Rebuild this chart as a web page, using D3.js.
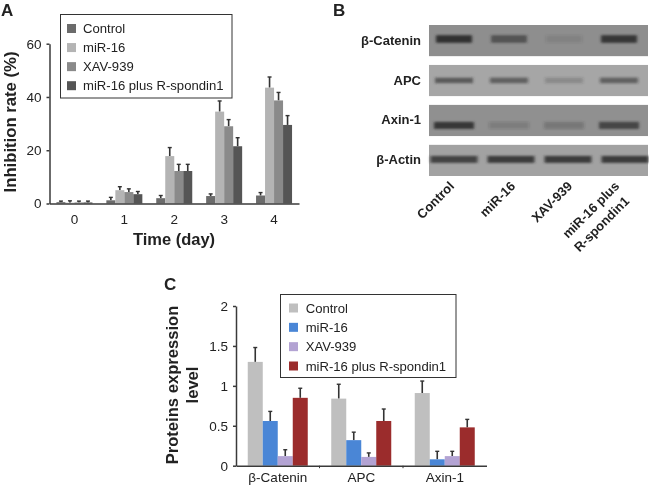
<!DOCTYPE html>
<html>
<head>
<meta charset="utf-8">
<script src="https://cdn.jsdelivr.net/npm/d3@7"></script>
<style>
  html, body { margin: 0; padding: 0; background: #fff; }
  svg { display: block; filter: blur(0.3px); }
  text { font-family: "Liberation Sans", Arial, sans-serif; fill: #222; }
  .axis path, .axis line { stroke: #3a3a3a; stroke-width: 1.5; }
</style>
</head>
<body>
<div id="chart"></div>
<script>
let series = ['Control', 'miR-16', 'XAV-939', 'miR-16 plus R-spondin1']

// panel A
let days = ['0', '1', '2', '3', '4']
let inhibitionControl = [0.5, 1.2, 2, 2.8, 3]
let inhibitionMir = [0.3, 5, 17.8, 34.5, 43.5]
let inhibitionXav = [0.4, 4.3, 12.2, 29, 38.7]
let inhibitionPlus = [0.4, 3.5, 12.2, 21.5, 29.5]
let inhibitionControlTop = [0.9, 2.3, 3, 3.6, 4.1]
let inhibitionMirTop = [1, 6.3, 21, 38.5, 47.5]
let inhibitionXavTop = [0.9, 5.5, 14.7, 31.5, 41.7]
let inhibitionPlusTop = [0.9, 4.5, 14.7, 24.7, 33]
let inhibitionTicks = [0, 20, 40, 60]

// panel B, darkness of each band, 0 to 1
let proteins = ['β-Catenin', 'APC', 'Axin-1', 'β-Actin']
let lanes = ['Control', 'miR-16', 'XAV-939', 'miR-16 plus R-spondin1']
let catBands = [0.95, 0.6, 0.13, 0.9]
let apcBands = [0.62, 0.55, 0.24, 0.55]
let axinBands = [0.9, 0.18, 0.26, 0.75]
let actinBands = [0.8, 0.85, 0.85, 0.85]

// panel C
let proteinsC = ['β-Catenin', 'APC', 'Axin-1']
let levelControl = [1.3, 0.84, 0.91]
let levelMir = [0.56, 0.32, 0.08]
let levelXav = [0.12, 0.11, 0.12]
let levelPlus = [0.85, 0.56, 0.48]
let levelControlTop = [1.48, 1.02, 1.06]
let levelMirTop = [0.68, 0.42, 0.18]
let levelXavTop = [0.2, 0.16, 0.18]
let levelPlusTop = [0.97, 0.71, 0.58]
let levelTicks = [0, 0.5, 1, 1.5, 2]

let greys = ['#6b6b6b', '#b4b4b4', '#8a8a8a', '#555555']
let colorsC = ['#bfbfbf', '#4a86d6', '#b3a3d3', '#9b2c2c']

let width = 649, height = 487

let svg = d3.select('#chart').append('svg')
  .attr('width', width)
  .attr('height', height)

let defs = svg.append('defs')
defs.append('filter').attr('id', 'bandblur')
  .attr('x', '-20%').attr('y', '-100%').attr('width', '140%').attr('height', '300%')
  .append('feGaussianBlur').attr('stdDeviation', '1.8 1.3')

function panelLabel(text, x, y) {
  svg.append('text')
    .attr('x', x)
    .attr('y', y)
    .attr('font-size', 17)
    .attr('font-weight', 'bold')
    .attr('fill', '#111')
    .text(text)
}

function drawBars(g, x, y, names, values, tops, colors, barWidth, errColor) {
  let inner = d3.scaleBand()
    .domain(d3.range(values.length))
    .range([-barWidth * values.length / 2, barWidth * values.length / 2])

  values.forEach(function (vals, s) {
    let grp = g.append('g')
    let cx = (d, i) => x(names[i]) + x.bandwidth() / 2 + inner(s) + barWidth / 2
    grp.selectAll('.err')
      .data(vals)
      .enter().append('line')
      .attr('x1', cx)
      .attr('x2', cx)
      .attr('y1', d => y(d))
      .attr('y2', (d, i) => y(tops[s][i]))
      .attr('stroke', errColor)
      .attr('stroke-width', 1.6)
    grp.selectAll('.cap')
      .data(vals)
      .enter().append('line')
      .attr('x1', (d, i) => cx(d, i) - 2)
      .attr('x2', (d, i) => cx(d, i) + 2)
      .attr('y1', (d, i) => y(tops[s][i]))
      .attr('y2', (d, i) => y(tops[s][i]))
      .attr('stroke', errColor)
      .attr('stroke-width', 1.4)
    grp.selectAll('rect')
      .data(vals)
      .enter().append('rect')
      .attr('x', (d, i) => cx(d, i) - barWidth / 2)
      .attr('y', d => y(d))
      .attr('width', barWidth)
      .attr('height', d => y(0) - y(d))
      .attr('fill', colors[s])
  })
}

function drawLegend(x0, y0, w, h, rows, swatchX, textX, colors) {
  let legend = svg.append('g')
  legend.append('rect')
    .attr('x', x0)
    .attr('y', y0)
    .attr('width', w)
    .attr('height', h)
    .attr('fill', '#fff')
    .attr('stroke', '#333')
    .attr('stroke-width', 1)
  series.forEach(function (name, i) {
    legend.append('rect')
      .attr('x', swatchX)
      .attr('y', rows(i) - 4.5)
      .attr('width', 9)
      .attr('height', 9)
      .attr('fill', colors[i])
    legend.append('text')
      .attr('x', textX)
      .attr('y', rows(i) + 4.5)
      .attr('font-size', 13.1)
      .text(name)
  })
}

// A
let xA = d3.scaleBand().domain(days).range([49.5, 299])
let yA = d3.scaleLinear().domain([0, 60]).range([203.5, 43.7])
let gA = svg.append('g')
drawBars(gA, xA, yA, days,
  [inhibitionControl, inhibitionMir, inhibitionXav, inhibitionPlus],
  [inhibitionControlTop, inhibitionMirTop, inhibitionXavTop, inhibitionPlusTop],
  greys, 9, '#333')

gA.append('g')
  .attr('class', 'axis')
  .attr('transform', 'translate(0,' + yA(0) + ')')
  .call(d3.axisBottom(xA).tickSize(0).tickPadding(11))
  .call(g => g.selectAll('text').attr('font-size', 13.5).attr('font-family', null))
gA.append('g')
  .attr('class', 'axis')
  .attr('transform', 'translate(49.5,0)')
  .call(d3.axisLeft(yA).tickValues(inhibitionTicks).tickSize(3).tickPadding(5).tickSizeOuter(0))
  .call(g => g.selectAll('text').attr('font-size', 13.5).attr('font-family', null))

svg.append('text')
  .attr('transform', 'translate(15.5,122) rotate(-90)')
  .attr('text-anchor', 'middle')
  .attr('font-size', 16.7)
  .attr('font-weight', 'bold')
  .text('Inhibition rate (%)')
svg.append('text')
  .attr('x', 174)
  .attr('y', 245)
  .attr('text-anchor', 'middle')
  .attr('font-size', 16.5)
  .attr('font-weight', 'bold')
  .text('Time (day)')

let rowsA = d3.scaleLinear().domain([0, 3]).range([28.5, 85.7])
drawLegend(60.5, 14.5, 171.5, 83.5, rowsA, 67, 83, greys)
panelLabel('A', 1, 15.5)

// B
let bandRows = [catBands, apcBands, axinBands, actinBands]
let rowY = d3.scaleBand().domain(proteins).range([25, 176]).paddingInner(0.22)
let laneX = d3.scalePoint().domain(lanes).range([454, 619])
let rowFill = d3.scaleOrdinal().domain(proteins).range(['#8e8e8e', '#a6a6a6', '#909090', '#a2a2a2'])
let bandShift = d3.scaleOrdinal().domain(proteins).range([14, 15.5, 20.5, 14.5])
let bandThick = d3.scaleOrdinal().domain(proteins).range([7.5, 5.5, 7, 7])
let bandWide = d3.scaleOrdinal().domain(proteins).range([36, 38, 40, 47])

let gB = svg.append('g')
proteins.forEach(function (name, r) {
  gB.append('rect')
    .attr('x', 429)
    .attr('y', rowY(name))
    .attr('width', 219)
    .attr('height', rowY.bandwidth())
    .attr('fill', rowFill(name))

  gB.append('g')
    .attr('filter', 'url(#bandblur)')
    .selectAll('rect')
    .data(bandRows[r])
    .enter().append('rect')
    .attr('x', (d, i) => laneX(lanes[i]) - bandWide(name) / 2 + (r === 3 ? i * 2 : 0))
    .attr('y', rowY(name) + bandShift(name) - bandThick(name) / 2)
    .attr('width', bandWide(name))
    .attr('height', bandThick(name))
    .attr('fill', '#2c2c2c')
    .attr('opacity', d => d)

  gB.append('text')
    .attr('x', 421)
    .attr('y', rowY(name) + rowY.bandwidth() / 2 + 4)
    .attr('text-anchor', 'end')
    .attr('font-size', 13)
    .attr('font-weight', 'bold')
    .text(name)
})

let laneLabels = [['Control'], ['miR-16'], ['XAV-939'], ['miR-16 plus', 'R-spondin1']]
let labelEnd = d3.scaleOrdinal().domain(lanes).range([455, 516, 573, 620])
laneLabels.forEach(function (lines, i) {
  lines.forEach(function (line, j) {
    gB.append('text')
      .attr('transform', 'translate(' + (labelEnd(lanes[i]) + j * 10) + ',' + (187 + j * 15) + ') rotate(-45)')
      .attr('text-anchor', 'end')
      .attr('font-size', 13)
      .attr('font-weight', 'bold')
      .text(line)
  })
})
panelLabel('B', 333, 15.5)

// C
let xC = d3.scaleBand().domain(proteinsC).range([236, 486.5])
let yC = d3.scaleLinear().domain([0, 2]).range([465.7, 306])
let gC = svg.append('g')
drawBars(gC, xC, yC, proteinsC,
  [levelControl, levelMir, levelXav, levelPlus],
  [levelControlTop, levelMirTop, levelXavTop, levelPlusTop],
  colorsC, 15, '#333')

gC.append('g')
  .attr('class', 'axis')
  .attr('transform', 'translate(0,' + yC(0) + ')')
  .call(d3.axisBottom(xC).tickSize(0).tickPadding(7))
  .call(g => g.selectAll('text').attr('font-size', 13.5).attr('font-family', null))
// small ticks between the groups
gC.append('g').selectAll('line')
  .data(proteinsC.slice(1))
  .enter().append('line')
  .attr('x1', d => xC(d))
  .attr('x2', d => xC(d))
  .attr('y1', yC(0))
  .attr('y2', yC(0) + 2.5)
  .attr('stroke', '#3a3a3a')
gC.append('g')
  .attr('class', 'axis')
  .attr('transform', 'translate(236,0)')
  .call(d3.axisLeft(yC).tickValues(levelTicks).tickFormat(d3.format('~g')).tickSize(3).tickPadding(5).tickSizeOuter(0))
  .call(g => g.selectAll('text').attr('font-size', 13.5).attr('font-family', null))

svg.append('text')
  .attr('transform', 'translate(178,385) rotate(-90)')
  .attr('text-anchor', 'middle')
  .attr('font-size', 16.6)
  .attr('font-weight', 'bold')
  .text('Proteins expression')
svg.append('text')
  .attr('transform', 'translate(198,385) rotate(-90)')
  .attr('text-anchor', 'middle')
  .attr('font-size', 16.6)
  .attr('font-weight', 'bold')
  .text('level')

let rowsC = d3.scaleLinear().domain([0, 3]).range([308, 366])
drawLegend(280.5, 294.5, 175.5, 83, rowsC, 289, 305.7, colorsC)
panelLabel('C', 164, 290)
</script>
</body>
</html>
